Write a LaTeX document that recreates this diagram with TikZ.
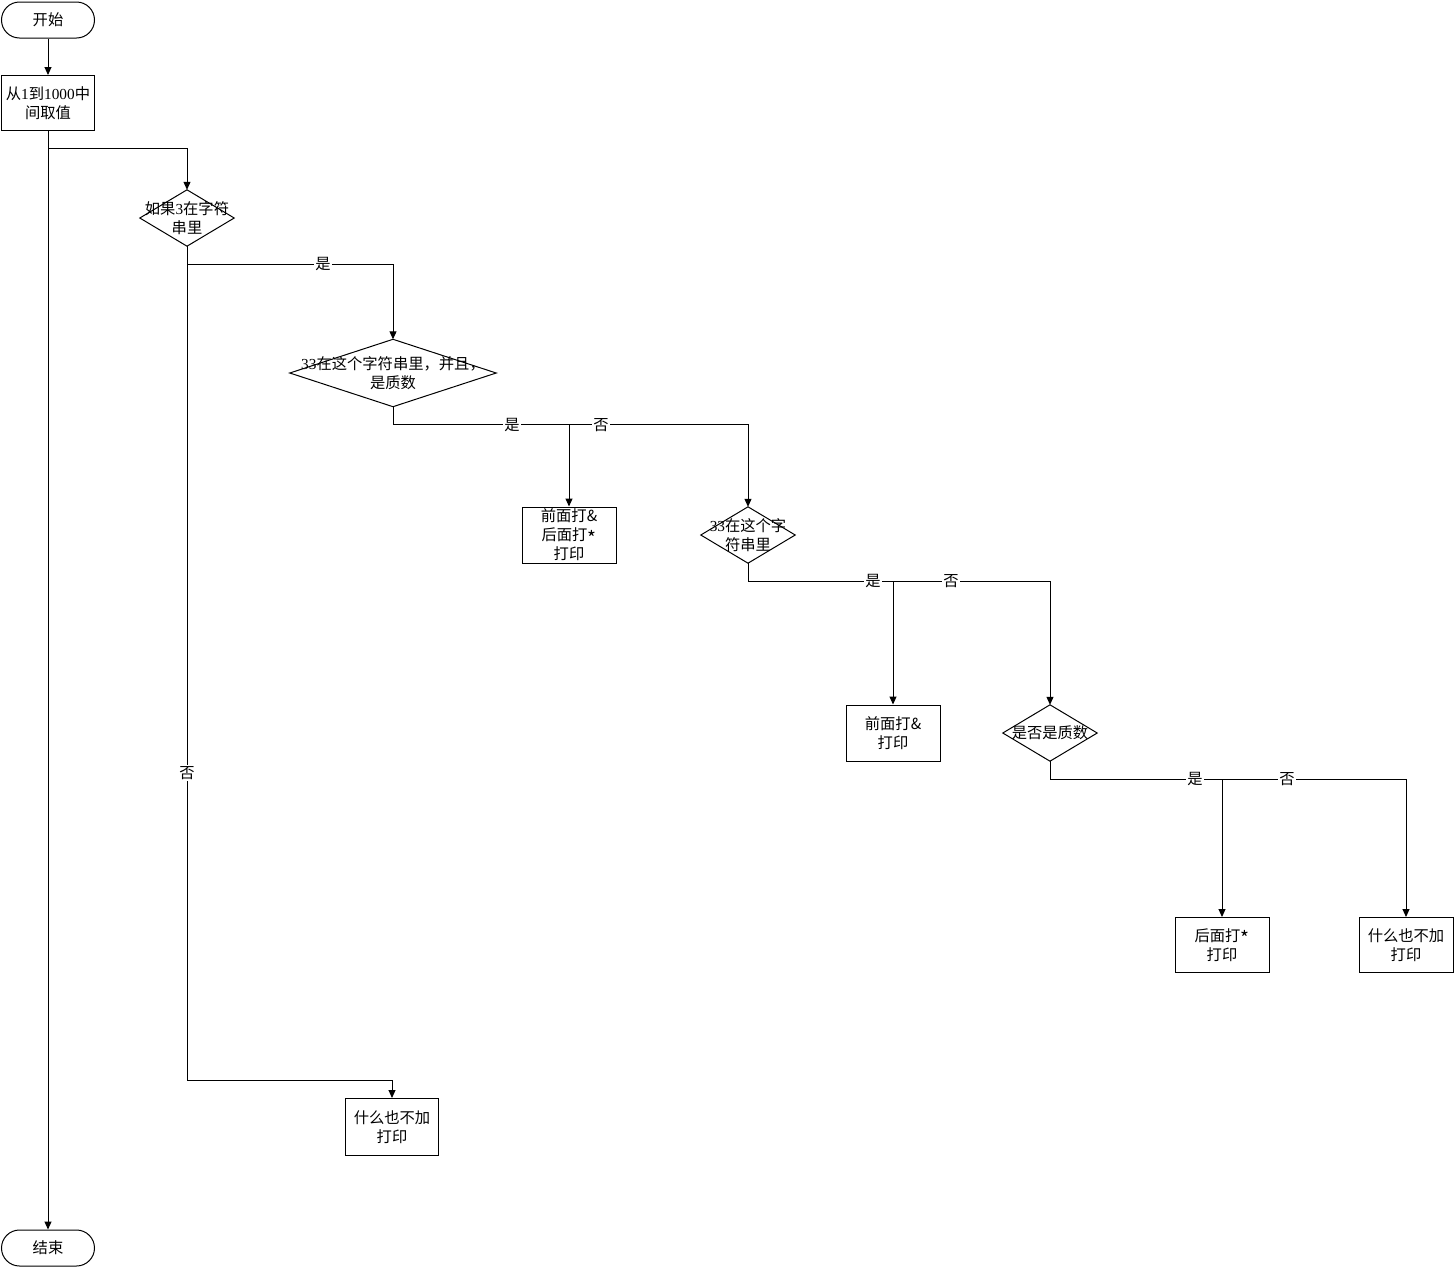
\documentclass[tikz,border=0pt]{standalone}
\usepackage{fontspec}
\setmainfont{Noto Sans CJK SC}
\newfontfamily\latfont{Liberation Serif}
\newcommand\Lat[1]{{\latfont #1}}
\newcommand\Ast{\raisebox{-0.28em}{\fontsize{19}{19}\selectfont *}}
\usetikzlibrary{arrows.meta}
\begin{document}
\begin{tikzpicture}[x=1pt,y=-1pt,
  every node/.style={font=\fontsize{15.3}{19}\selectfont, inner sep=0pt, align=center},
  term/.style={draw, line width=1pt, rounded corners=18pt, minimum width=93pt, minimum height=36pt},
  proc/.style={draw, line width=1pt, minimum width=94pt, minimum height=56pt},
  dia/.style={minimum width=94pt, minimum height=56pt},
  arr/.style={draw, line width=1pt, -{Triangle[length=8pt,width=7pt]}},
  lbl/.style={fill=white, inner sep=1.5pt}]
\useasboundingbox (0,0) rectangle (1454,1267);
\fill[white] (0,0) rectangle (1454,1267);

\node[term] (start) at (48,20) {开始};
\node[proc, minimum width=93pt, minimum height=55pt] (b1) at (48,103) {从\Lat{1}到\Lat{1000}中\\间取值};
\node[term] (end) at (48,1248) {结束};
\node[dia] (d1) at (187,218) {如果\Lat{3}在字符\\串里};
\node[proc, minimum width=93pt, minimum height=57pt] (n1) at (392,1127) {什么也不加\\打印};
\node[dia, minimum width=206pt, minimum height=67pt] (d2) at (393,373) {\Lat{33}在这个字符串里，并且，\\是质数};
\node[proc] (p1) at (569,535) {前面打\&\\后面打\Ast\\打印};
\node[dia] (d3) at (748,535) {\Lat{33}在这个字\\符串里};
\node[proc] (p2) at (893,733) {前面打\&\\打印};
\node[dia] (d4) at (1050,733) {是否是质数};
\node[proc, minimum height=55pt] (p3) at (1222,945) {后面打\Ast\\打印};
\node[proc, minimum height=55pt] (p4) at (1406,945) {什么也不加\\打印};

\foreach \d in {d1,d2,d3,d4}
  \draw[line width=1pt] (\d.north) -- (\d.east) -- (\d.south) -- (\d.west) -- cycle;

\coordinate (j1) at (48,148);
\coordinate (k1) at (187,1080);
\coordinate (k2) at (187,264);

\draw[arr] (start) -- (b1);
\draw[arr] (b1.south) -- (end.north);
\draw[arr] (j1) -| (d1.north);
\draw[arr] (d1.south) -- (k1) -| (n1.north);
\draw[arr] (k2) -| (d2.north);
\draw[arr] (d2.south) -- ++(0,18) -| (p1.north);
\draw[arr] (d2.south) -- ++(0,18) -| (d3.north);
\draw[arr] (d3.south) -- ++(0,18) -| (p2.north);
\draw[arr] (d3.south) -- ++(0,18) -| (d4.north);
\draw[arr] (d4.south) -- ++(0,18) -| (p3.north);
\draw[arr] (d4.south) -- ++(0,18) -| (p4.north);

\node[lbl] (l1) at (323,264) {是};
\node[lbl] (l2) at (187,773) {否};
\node[lbl] (l3) at (512,425) {是};
\node[lbl] (l4) at (601,425) {否};
\node[lbl] (l5) at (873,581) {是};
\node[lbl] (l6) at (951,581) {否};
\node[lbl] (l7) at (1195,779) {是};
\node[lbl] (l8) at (1287,779) {否};
\end{tikzpicture}
\end{document}
